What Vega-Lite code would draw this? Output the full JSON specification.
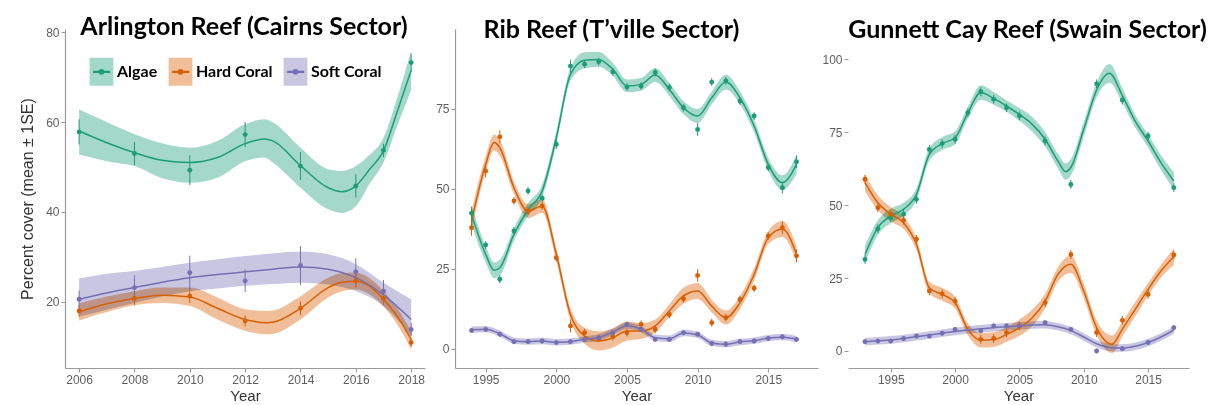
{
  "$schema": "https://vega.github.io/schema/vega-lite/v6.json",
  "background": "white",
  "padding": {"left": 19, "top": 15, "right": 5, "bottom": 0},
  "bounds": "flush",
  "spacing": 30,
  "datasets": {
    "fit1": [
      {"group": "Algae", "year": 2006, "fit": 58.0, "lo": 52.8, "hi": 62.8},
      {"group": "Algae", "year": 2007, "fit": 55.4, "lo": 51.3, "hi": 60.0},
      {"group": "Algae", "year": 2008, "fit": 53.2, "lo": 50.2, "hi": 57.3},
      {"group": "Algae", "year": 2009, "fit": 51.5, "lo": 47.5, "hi": 55.3},
      {"group": "Algae", "year": 2010, "fit": 51.0, "lo": 46.5, "hi": 54.3},
      {"group": "Algae", "year": 2011, "fit": 52.1, "lo": 47.6, "hi": 55.8},
      {"group": "Algae", "year": 2012, "fit": 55.2, "lo": 51.3, "hi": 59.5},
      {"group": "Algae", "year": 2012.7, "fit": 56.2, "lo": 52.1, "hi": 60.6},
      {"group": "Algae", "year": 2013, "fit": 55.8, "lo": 51.0, "hi": 59.9},
      {"group": "Algae", "year": 2014, "fit": 50.3, "lo": 45.4, "hi": 54.3},
      {"group": "Algae", "year": 2015, "fit": 45.4, "lo": 40.6, "hi": 49.5},
      {"group": "Algae", "year": 2015.5, "fit": 44.5, "lo": 39.8, "hi": 49.1},
      {"group": "Algae", "year": 2016, "fit": 45.8, "lo": 41.3, "hi": 50.2},
      {"group": "Algae", "year": 2016.5, "fit": 49.5, "lo": 46.3, "hi": 52.7},
      {"group": "Algae", "year": 2017, "fit": 53.6, "lo": 51.0, "hi": 56.5},
      {"group": "Algae", "year": 2017.5, "fit": 62.4, "lo": 59.2, "hi": 65.5},
      {"group": "Algae", "year": 2018, "fit": 71.5, "lo": 67.1, "hi": 75.8},
      {"group": "Hard Coral", "year": 2006, "fit": 17.8, "lo": 15.9, "hi": 19.7},
      {"group": "Hard Coral", "year": 2007, "fit": 19.6, "lo": 17.8, "hi": 21.2},
      {"group": "Hard Coral", "year": 2008, "fit": 20.8, "lo": 19.3, "hi": 22.4},
      {"group": "Hard Coral", "year": 2009, "fit": 21.5, "lo": 19.8, "hi": 23.2},
      {"group": "Hard Coral", "year": 2010, "fit": 21.1, "lo": 19.1, "hi": 23.2},
      {"group": "Hard Coral", "year": 2011, "fit": 18.6, "lo": 16.1, "hi": 21.0},
      {"group": "Hard Coral", "year": 2012, "fit": 16.1, "lo": 13.6, "hi": 18.4},
      {"group": "Hard Coral", "year": 2012.8, "fit": 15.4, "lo": 12.8, "hi": 18.0},
      {"group": "Hard Coral", "year": 2013, "fit": 15.5, "lo": 12.9, "hi": 18.1},
      {"group": "Hard Coral", "year": 2014, "fit": 18.6, "lo": 16.1, "hi": 21.3},
      {"group": "Hard Coral", "year": 2015, "fit": 23.2, "lo": 21.0, "hi": 25.4},
      {"group": "Hard Coral", "year": 2015.5, "fit": 24.4, "lo": 22.4, "hi": 26.4},
      {"group": "Hard Coral", "year": 2016, "fit": 24.6, "lo": 22.8, "hi": 26.5},
      {"group": "Hard Coral", "year": 2016.5, "fit": 23.5, "lo": 21.7, "hi": 25.3},
      {"group": "Hard Coral", "year": 2017, "fit": 20.6, "lo": 19.0, "hi": 22.4},
      {"group": "Hard Coral", "year": 2017.5, "fit": 16.8, "lo": 15.0, "hi": 18.6},
      {"group": "Hard Coral", "year": 2018, "fit": 11.7, "lo": 9.5, "hi": 13.5},
      {"group": "Soft Coral", "year": 2006, "fit": 20.6, "lo": 16.8, "hi": 25.2},
      {"group": "Soft Coral", "year": 2007, "fit": 22.0, "lo": 18.3, "hi": 26.3},
      {"group": "Soft Coral", "year": 2008, "fit": 23.2, "lo": 19.8, "hi": 26.9},
      {"group": "Soft Coral", "year": 2009, "fit": 24.4, "lo": 21.2, "hi": 27.8},
      {"group": "Soft Coral", "year": 2010, "fit": 25.4, "lo": 22.4, "hi": 28.7},
      {"group": "Soft Coral", "year": 2011, "fit": 26.1, "lo": 23.0, "hi": 29.5},
      {"group": "Soft Coral", "year": 2012, "fit": 26.7, "lo": 23.6, "hi": 30.2},
      {"group": "Soft Coral", "year": 2013, "fit": 27.3, "lo": 24.0, "hi": 30.8},
      {"group": "Soft Coral", "year": 2014, "fit": 27.8, "lo": 24.3, "hi": 31.2},
      {"group": "Soft Coral", "year": 2015, "fit": 27.3, "lo": 23.9, "hi": 30.6},
      {"group": "Soft Coral", "year": 2016, "fit": 25.4, "lo": 22.4, "hi": 28.4},
      {"group": "Soft Coral", "year": 2017, "fit": 21.6, "lo": 19.1, "hi": 24.3},
      {"group": "Soft Coral", "year": 2018, "fit": 16.1, "lo": 12.4, "hi": 20.6}
    ],
    "pts1": [
      {"group": "Algae", "year": 2006, "mean": 57.8, "lo": 55.0, "hi": 60.6},
      {"group": "Algae", "year": 2008, "mean": 53.0, "lo": 50.4, "hi": 55.6},
      {"group": "Algae", "year": 2010, "mean": 49.3, "lo": 46.0, "hi": 52.6},
      {"group": "Algae", "year": 2012, "mean": 57.2, "lo": 54.4, "hi": 60.0},
      {"group": "Algae", "year": 2014, "mean": 50.2, "lo": 47.1, "hi": 53.3},
      {"group": "Algae", "year": 2016, "mean": 45.8, "lo": 43.2, "hi": 48.4},
      {"group": "Algae", "year": 2017, "mean": 53.7, "lo": 52.2, "hi": 55.2},
      {"group": "Algae", "year": 2018, "mean": 73.2, "lo": 71.2, "hi": 75.2},
      {"group": "Hard Coral", "year": 2006, "mean": 18.0, "lo": 16.7, "hi": 19.3},
      {"group": "Hard Coral", "year": 2008, "mean": 20.8, "lo": 19.3, "hi": 22.3},
      {"group": "Hard Coral", "year": 2010, "mean": 21.3, "lo": 19.8, "hi": 22.8},
      {"group": "Hard Coral", "year": 2012, "mean": 15.8, "lo": 14.6, "hi": 17.0},
      {"group": "Hard Coral", "year": 2014, "mean": 18.6, "lo": 17.1, "hi": 20.1},
      {"group": "Hard Coral", "year": 2016, "mean": 24.7, "lo": 23.2, "hi": 26.2},
      {"group": "Hard Coral", "year": 2017, "mean": 20.8, "lo": 19.3, "hi": 22.3},
      {"group": "Hard Coral", "year": 2018, "mean": 11.0, "lo": 10.0, "hi": 12.0},
      {"group": "Soft Coral", "year": 2006, "mean": 20.6, "lo": 18.7, "hi": 22.5},
      {"group": "Soft Coral", "year": 2008, "mean": 23.2, "lo": 20.5, "hi": 25.9},
      {"group": "Soft Coral", "year": 2010, "mean": 26.5, "lo": 22.7, "hi": 30.3},
      {"group": "Soft Coral", "year": 2012, "mean": 24.7, "lo": 22.2, "hi": 27.2},
      {"group": "Soft Coral", "year": 2014, "mean": 28.1, "lo": 23.8, "hi": 32.4},
      {"group": "Soft Coral", "year": 2016, "mean": 26.7, "lo": 23.7, "hi": 29.7},
      {"group": "Soft Coral", "year": 2017, "mean": 22.4, "lo": 19.9, "hi": 24.9},
      {"group": "Soft Coral", "year": 2018, "mean": 13.9, "lo": 12.4, "hi": 15.4}
    ],
    "fit2": [
      {"group": "Algae", "year": 1994, "fit": 42.0, "lo": 39.0, "hi": 45.0},
      {"group": "Algae", "year": 1995, "fit": 29.6, "lo": 27.1, "hi": 32.1},
      {"group": "Algae", "year": 1995.6, "fit": 24.6, "lo": 22.1, "hi": 27.1},
      {"group": "Algae", "year": 1996, "fit": 25.4, "lo": 22.9, "hi": 27.9},
      {"group": "Algae", "year": 1997, "fit": 35.8, "lo": 33.8, "hi": 37.8},
      {"group": "Algae", "year": 1998, "fit": 43.6, "lo": 41.6, "hi": 45.6},
      {"group": "Algae", "year": 1999, "fit": 49.4, "lo": 47.4, "hi": 51.4},
      {"group": "Algae", "year": 2000, "fit": 66.0, "lo": 64.0, "hi": 68.0},
      {"group": "Algae", "year": 2001, "fit": 85.8, "lo": 83.8, "hi": 87.8},
      {"group": "Algae", "year": 2002, "fit": 90.2, "lo": 87.7, "hi": 92.7},
      {"group": "Algae", "year": 2003, "fit": 90.5, "lo": 88.2, "hi": 92.8},
      {"group": "Algae", "year": 2004, "fit": 87.4, "lo": 85.4, "hi": 89.4},
      {"group": "Algae", "year": 2005, "fit": 82.2, "lo": 80.2, "hi": 84.2},
      {"group": "Algae", "year": 2006, "fit": 82.7, "lo": 80.7, "hi": 84.7},
      {"group": "Algae", "year": 2007, "fit": 85.6, "lo": 83.4, "hi": 87.8},
      {"group": "Algae", "year": 2008, "fit": 81.1, "lo": 79.1, "hi": 83.1},
      {"group": "Algae", "year": 2009, "fit": 75.4, "lo": 73.4, "hi": 77.4},
      {"group": "Algae", "year": 2010, "fit": 72.8, "lo": 70.6, "hi": 75.0},
      {"group": "Algae", "year": 2011, "fit": 78.5, "lo": 76.5, "hi": 80.5},
      {"group": "Algae", "year": 2012, "fit": 83.4, "lo": 81.1, "hi": 85.7},
      {"group": "Algae", "year": 2013, "fit": 78.5, "lo": 76.5, "hi": 80.5},
      {"group": "Algae", "year": 2014, "fit": 69.7, "lo": 67.7, "hi": 71.7},
      {"group": "Algae", "year": 2015, "fit": 57.7, "lo": 55.7, "hi": 59.7},
      {"group": "Algae", "year": 2016, "fit": 52.0, "lo": 49.7, "hi": 54.3},
      {"group": "Algae", "year": 2017, "fit": 57.7, "lo": 54.7, "hi": 60.7},
      {"group": "Hard Coral", "year": 1994, "fit": 40.0, "lo": 37.0, "hi": 43.0},
      {"group": "Hard Coral", "year": 1995, "fit": 57.7, "lo": 55.2, "hi": 60.2},
      {"group": "Hard Coral", "year": 1995.6, "fit": 64.5, "lo": 62.0, "hi": 67.0},
      {"group": "Hard Coral", "year": 1996, "fit": 62.9, "lo": 60.4, "hi": 65.4},
      {"group": "Hard Coral", "year": 1997, "fit": 50.4, "lo": 48.4, "hi": 52.4},
      {"group": "Hard Coral", "year": 1998, "fit": 43.1, "lo": 40.9, "hi": 45.3},
      {"group": "Hard Coral", "year": 1999, "fit": 44.7, "lo": 42.5, "hi": 46.9},
      {"group": "Hard Coral", "year": 2000, "fit": 29.6, "lo": 27.6, "hi": 31.6},
      {"group": "Hard Coral", "year": 2001, "fit": 10.8, "lo": 8.8, "hi": 12.8},
      {"group": "Hard Coral", "year": 2002, "fit": 4.1, "lo": 1.6, "hi": 6.6},
      {"group": "Hard Coral", "year": 2003, "fit": 2.5, "lo": -0.5, "hi": 5.5},
      {"group": "Hard Coral", "year": 2004, "fit": 3.5, "lo": 0.5, "hi": 6.5},
      {"group": "Hard Coral", "year": 2005, "fit": 5.6, "lo": 2.6, "hi": 8.6},
      {"group": "Hard Coral", "year": 2006, "fit": 5.6, "lo": 3.1, "hi": 8.1},
      {"group": "Hard Coral", "year": 2007, "fit": 7.2, "lo": 5.2, "hi": 9.2},
      {"group": "Hard Coral", "year": 2008, "fit": 11.9, "lo": 9.9, "hi": 13.9},
      {"group": "Hard Coral", "year": 2009, "fit": 16.6, "lo": 14.1, "hi": 19.1},
      {"group": "Hard Coral", "year": 2010, "fit": 18.1, "lo": 15.6, "hi": 20.6},
      {"group": "Hard Coral", "year": 2011, "fit": 13.4, "lo": 11.4, "hi": 15.4},
      {"group": "Hard Coral", "year": 2012, "fit": 9.8, "lo": 7.6, "hi": 12.0},
      {"group": "Hard Coral", "year": 2013, "fit": 14.5, "lo": 12.5, "hi": 16.5},
      {"group": "Hard Coral", "year": 2014, "fit": 23.3, "lo": 21.3, "hi": 25.3},
      {"group": "Hard Coral", "year": 2015, "fit": 34.8, "lo": 32.8, "hi": 36.8},
      {"group": "Hard Coral", "year": 2016, "fit": 37.5, "lo": 35.0, "hi": 40.0},
      {"group": "Hard Coral", "year": 2017, "fit": 29.6, "lo": 27.1, "hi": 32.1},
      {"group": "Soft Coral", "year": 1994, "fit": 6.0, "lo": 5.0, "hi": 7.0},
      {"group": "Soft Coral", "year": 1995, "fit": 6.2, "lo": 5.2, "hi": 7.2},
      {"group": "Soft Coral", "year": 1996, "fit": 4.8, "lo": 3.8, "hi": 5.8},
      {"group": "Soft Coral", "year": 1997, "fit": 2.6, "lo": 1.6, "hi": 3.6},
      {"group": "Soft Coral", "year": 1998, "fit": 2.3, "lo": 1.3, "hi": 3.3},
      {"group": "Soft Coral", "year": 1999, "fit": 2.5, "lo": 1.5, "hi": 3.5},
      {"group": "Soft Coral", "year": 2000, "fit": 2.1, "lo": 1.1, "hi": 3.1},
      {"group": "Soft Coral", "year": 2001, "fit": 2.3, "lo": 1.3, "hi": 3.3},
      {"group": "Soft Coral", "year": 2002, "fit": 3.0, "lo": 2.0, "hi": 4.0},
      {"group": "Soft Coral", "year": 2003, "fit": 3.6, "lo": 2.6, "hi": 4.6},
      {"group": "Soft Coral", "year": 2004, "fit": 5.3, "lo": 4.3, "hi": 6.3},
      {"group": "Soft Coral", "year": 2005, "fit": 7.3, "lo": 6.3, "hi": 8.3},
      {"group": "Soft Coral", "year": 2006, "fit": 6.2, "lo": 5.2, "hi": 7.2},
      {"group": "Soft Coral", "year": 2007, "fit": 3.5, "lo": 2.5, "hi": 4.5},
      {"group": "Soft Coral", "year": 2008, "fit": 3.2, "lo": 2.2, "hi": 4.2},
      {"group": "Soft Coral", "year": 2009, "fit": 5.0, "lo": 4.0, "hi": 6.0},
      {"group": "Soft Coral", "year": 2010, "fit": 4.4, "lo": 3.4, "hi": 5.4},
      {"group": "Soft Coral", "year": 2011, "fit": 1.9, "lo": 0.9, "hi": 2.9},
      {"group": "Soft Coral", "year": 2012, "fit": 1.5, "lo": 0.5, "hi": 2.5},
      {"group": "Soft Coral", "year": 2013, "fit": 2.2, "lo": 1.2, "hi": 3.2},
      {"group": "Soft Coral", "year": 2014, "fit": 2.6, "lo": 1.6, "hi": 3.6},
      {"group": "Soft Coral", "year": 2015, "fit": 3.4, "lo": 2.4, "hi": 4.4},
      {"group": "Soft Coral", "year": 2016, "fit": 3.7, "lo": 2.7, "hi": 4.7},
      {"group": "Soft Coral", "year": 2017, "fit": 3.1, "lo": 2.1, "hi": 4.1}
    ],
    "pts2": [
      {"group": "Algae", "year": 1994, "mean": 42.4, "lo": 40.4, "hi": 44.4},
      {"group": "Algae", "year": 1995, "mean": 32.5, "lo": 31.3, "hi": 33.7},
      {"group": "Algae", "year": 1996, "mean": 21.8, "lo": 20.6, "hi": 23.0},
      {"group": "Algae", "year": 1997, "mean": 36.9, "lo": 35.7, "hi": 38.1},
      {"group": "Algae", "year": 1998, "mean": 49.4, "lo": 48.2, "hi": 50.6},
      {"group": "Algae", "year": 1999, "mean": 47.1, "lo": 45.9, "hi": 48.3},
      {"group": "Algae", "year": 2000, "mean": 64.0, "lo": 62.5, "hi": 65.5},
      {"group": "Algae", "year": 2001, "mean": 88.4, "lo": 86.4, "hi": 90.4},
      {"group": "Algae", "year": 2002, "mean": 89.0, "lo": 87.8, "hi": 90.2},
      {"group": "Algae", "year": 2003, "mean": 89.8, "lo": 88.6, "hi": 91.0},
      {"group": "Algae", "year": 2004, "mean": 86.6, "lo": 85.4, "hi": 87.8},
      {"group": "Algae", "year": 2005, "mean": 81.9, "lo": 80.7, "hi": 83.1},
      {"group": "Algae", "year": 2006, "mean": 82.2, "lo": 81.0, "hi": 83.4},
      {"group": "Algae", "year": 2007, "mean": 86.4, "lo": 85.2, "hi": 87.6},
      {"group": "Algae", "year": 2008, "mean": 81.7, "lo": 80.5, "hi": 82.9},
      {"group": "Algae", "year": 2009, "mean": 75.4, "lo": 74.2, "hi": 76.6},
      {"group": "Algae", "year": 2010, "mean": 68.6, "lo": 66.6, "hi": 70.6},
      {"group": "Algae", "year": 2011, "mean": 83.4, "lo": 82.2, "hi": 84.6},
      {"group": "Algae", "year": 2012, "mean": 83.8, "lo": 82.6, "hi": 85.0},
      {"group": "Algae", "year": 2013, "mean": 77.5, "lo": 76.3, "hi": 78.7},
      {"group": "Algae", "year": 2014, "mean": 72.8, "lo": 71.6, "hi": 74.0},
      {"group": "Algae", "year": 2015, "mean": 56.7, "lo": 55.5, "hi": 57.9},
      {"group": "Algae", "year": 2016, "mean": 50.4, "lo": 48.6, "hi": 52.2},
      {"group": "Algae", "year": 2017, "mean": 58.5, "lo": 56.5, "hi": 60.5},
      {"group": "Hard Coral", "year": 1994, "mean": 37.9, "lo": 35.4, "hi": 40.4},
      {"group": "Hard Coral", "year": 1995, "mean": 55.6, "lo": 53.6, "hi": 57.6},
      {"group": "Hard Coral", "year": 1996, "mean": 66.3, "lo": 64.3, "hi": 68.3},
      {"group": "Hard Coral", "year": 1997, "mean": 46.3, "lo": 45.1, "hi": 47.5},
      {"group": "Hard Coral", "year": 1998, "mean": 43.1, "lo": 41.9, "hi": 44.3},
      {"group": "Hard Coral", "year": 1999, "mean": 44.7, "lo": 43.5, "hi": 45.9},
      {"group": "Hard Coral", "year": 2000, "mean": 28.5, "lo": 27.3, "hi": 29.7},
      {"group": "Hard Coral", "year": 2001, "mean": 7.2, "lo": 5.2, "hi": 9.2},
      {"group": "Hard Coral", "year": 2002, "mean": 5.1, "lo": 3.9, "hi": 6.3},
      {"group": "Hard Coral", "year": 2003, "mean": 3.3, "lo": 2.1, "hi": 4.5},
      {"group": "Hard Coral", "year": 2004, "mean": 3.8, "lo": 2.6, "hi": 5.0},
      {"group": "Hard Coral", "year": 2005, "mean": 5.1, "lo": 3.9, "hi": 6.3},
      {"group": "Hard Coral", "year": 2006, "mean": 7.7, "lo": 6.5, "hi": 8.9},
      {"group": "Hard Coral", "year": 2007, "mean": 6.1, "lo": 4.9, "hi": 7.3},
      {"group": "Hard Coral", "year": 2008, "mean": 10.8, "lo": 9.6, "hi": 12.0},
      {"group": "Hard Coral", "year": 2009, "mean": 15.7, "lo": 14.5, "hi": 16.9},
      {"group": "Hard Coral", "year": 2010, "mean": 23.0, "lo": 21.0, "hi": 25.0},
      {"group": "Hard Coral", "year": 2011, "mean": 8.2, "lo": 7.0, "hi": 9.4},
      {"group": "Hard Coral", "year": 2012, "mean": 9.8, "lo": 8.6, "hi": 11.0},
      {"group": "Hard Coral", "year": 2013, "mean": 15.5, "lo": 14.3, "hi": 16.7},
      {"group": "Hard Coral", "year": 2014, "mean": 19.0, "lo": 17.8, "hi": 20.2},
      {"group": "Hard Coral", "year": 2015, "mean": 35.3, "lo": 34.1, "hi": 36.5},
      {"group": "Hard Coral", "year": 2016, "mean": 37.9, "lo": 35.9, "hi": 39.9},
      {"group": "Hard Coral", "year": 2017, "mean": 29.1, "lo": 27.1, "hi": 31.1},
      {"group": "Soft Coral", "year": 1994, "mean": 5.8, "lo": 5.0, "hi": 6.6},
      {"group": "Soft Coral", "year": 1995, "mean": 6.1, "lo": 5.3, "hi": 6.9},
      {"group": "Soft Coral", "year": 1996, "mean": 4.6, "lo": 3.8, "hi": 5.4},
      {"group": "Soft Coral", "year": 1997, "mean": 2.3, "lo": 1.5, "hi": 3.1},
      {"group": "Soft Coral", "year": 1998, "mean": 2.3, "lo": 1.5, "hi": 3.1},
      {"group": "Soft Coral", "year": 1999, "mean": 2.5, "lo": 1.7, "hi": 3.3},
      {"group": "Soft Coral", "year": 2000, "mean": 2.0, "lo": 1.2, "hi": 2.8},
      {"group": "Soft Coral", "year": 2001, "mean": 2.3, "lo": 1.5, "hi": 3.1},
      {"group": "Soft Coral", "year": 2002, "mean": 3.0, "lo": 2.2, "hi": 3.8},
      {"group": "Soft Coral", "year": 2003, "mean": 3.5, "lo": 2.7, "hi": 4.3},
      {"group": "Soft Coral", "year": 2004, "mean": 5.1, "lo": 4.3, "hi": 5.9},
      {"group": "Soft Coral", "year": 2005, "mean": 7.7, "lo": 6.9, "hi": 8.5},
      {"group": "Soft Coral", "year": 2006, "mean": 6.1, "lo": 5.3, "hi": 6.9},
      {"group": "Soft Coral", "year": 2007, "mean": 3.0, "lo": 2.2, "hi": 3.8},
      {"group": "Soft Coral", "year": 2008, "mean": 3.0, "lo": 2.2, "hi": 3.8},
      {"group": "Soft Coral", "year": 2009, "mean": 5.1, "lo": 4.3, "hi": 5.9},
      {"group": "Soft Coral", "year": 2010, "mean": 4.6, "lo": 3.8, "hi": 5.4},
      {"group": "Soft Coral", "year": 2011, "mean": 1.7, "lo": 0.9, "hi": 2.5},
      {"group": "Soft Coral", "year": 2012, "mean": 1.5, "lo": 0.7, "hi": 2.3},
      {"group": "Soft Coral", "year": 2013, "mean": 2.3, "lo": 1.5, "hi": 3.1},
      {"group": "Soft Coral", "year": 2014, "mean": 2.5, "lo": 1.7, "hi": 3.3},
      {"group": "Soft Coral", "year": 2015, "mean": 3.3, "lo": 2.5, "hi": 4.1},
      {"group": "Soft Coral", "year": 2016, "mean": 3.8, "lo": 3.0, "hi": 4.6},
      {"group": "Soft Coral", "year": 2017, "mean": 3.0, "lo": 2.2, "hi": 3.8}
    ],
    "fit3": [
      {"group": "Algae", "year": 1993, "fit": 33.1, "lo": 30.1, "hi": 36.1},
      {"group": "Algae", "year": 1994, "fit": 42.3, "lo": 39.8, "hi": 44.8},
      {"group": "Algae", "year": 1995, "fit": 46.3, "lo": 43.8, "hi": 48.8},
      {"group": "Algae", "year": 1996, "fit": 48.6, "lo": 46.4, "hi": 50.8},
      {"group": "Algae", "year": 1997, "fit": 53.7, "lo": 51.7, "hi": 55.7},
      {"group": "Algae", "year": 1998, "fit": 67.4, "lo": 65.2, "hi": 69.6},
      {"group": "Algae", "year": 1999, "fit": 71.1, "lo": 68.9, "hi": 73.3},
      {"group": "Algae", "year": 2000, "fit": 73.1, "lo": 70.9, "hi": 75.3},
      {"group": "Algae", "year": 2001, "fit": 81.7, "lo": 79.7, "hi": 83.7},
      {"group": "Algae", "year": 2002, "fit": 88.6, "lo": 86.1, "hi": 91.1},
      {"group": "Algae", "year": 2003, "fit": 86.6, "lo": 84.4, "hi": 88.8},
      {"group": "Algae", "year": 2004, "fit": 84.0, "lo": 82.0, "hi": 86.0},
      {"group": "Algae", "year": 2005, "fit": 81.1, "lo": 78.9, "hi": 83.3},
      {"group": "Algae", "year": 2006, "fit": 77.7, "lo": 75.2, "hi": 80.2},
      {"group": "Algae", "year": 2007, "fit": 72.6, "lo": 70.1, "hi": 75.1},
      {"group": "Algae", "year": 2008, "fit": 65.1, "lo": 62.6, "hi": 67.6},
      {"group": "Algae", "year": 2008.6, "fit": 61.5, "lo": 58.7, "hi": 64.3},
      {"group": "Algae", "year": 2009, "fit": 63.0, "lo": 60.2, "hi": 65.8},
      {"group": "Algae", "year": 2010, "fit": 76.0, "lo": 73.5, "hi": 78.5},
      {"group": "Algae", "year": 2011, "fit": 89.5, "lo": 87.0, "hi": 92.0},
      {"group": "Algae", "year": 2012, "fit": 95.2, "lo": 92.0, "hi": 98.4},
      {"group": "Algae", "year": 2013, "fit": 87.6, "lo": 85.1, "hi": 90.1},
      {"group": "Algae", "year": 2014, "fit": 78.8, "lo": 76.6, "hi": 81.0},
      {"group": "Algae", "year": 2015, "fit": 72.0, "lo": 69.8, "hi": 74.2},
      {"group": "Algae", "year": 2016, "fit": 64.6, "lo": 62.1, "hi": 67.1},
      {"group": "Algae", "year": 2017, "fit": 58.3, "lo": 55.3, "hi": 61.3},
      {"group": "Hard Coral", "year": 1993, "fit": 57.7, "lo": 54.7, "hi": 60.7},
      {"group": "Hard Coral", "year": 1994, "fit": 50.8, "lo": 48.3, "hi": 53.3},
      {"group": "Hard Coral", "year": 1995, "fit": 46.9, "lo": 44.4, "hi": 49.4},
      {"group": "Hard Coral", "year": 1996, "fit": 44.0, "lo": 41.8, "hi": 46.2},
      {"group": "Hard Coral", "year": 1997, "fit": 36.6, "lo": 34.6, "hi": 38.6},
      {"group": "Hard Coral", "year": 1998, "fit": 21.7, "lo": 19.7, "hi": 23.7},
      {"group": "Hard Coral", "year": 1999, "fit": 19.4, "lo": 17.2, "hi": 21.6},
      {"group": "Hard Coral", "year": 2000, "fit": 16.6, "lo": 14.6, "hi": 18.6},
      {"group": "Hard Coral", "year": 2001, "fit": 7.4, "lo": 5.4, "hi": 9.4},
      {"group": "Hard Coral", "year": 2002, "fit": 3.7, "lo": 1.2, "hi": 6.2},
      {"group": "Hard Coral", "year": 2003, "fit": 3.9, "lo": 1.4, "hi": 6.4},
      {"group": "Hard Coral", "year": 2004, "fit": 5.7, "lo": 3.2, "hi": 8.2},
      {"group": "Hard Coral", "year": 2005, "fit": 8.0, "lo": 5.2, "hi": 10.8},
      {"group": "Hard Coral", "year": 2006, "fit": 11.4, "lo": 8.6, "hi": 14.2},
      {"group": "Hard Coral", "year": 2007, "fit": 17.1, "lo": 14.6, "hi": 19.6},
      {"group": "Hard Coral", "year": 2008, "fit": 26.3, "lo": 23.8, "hi": 28.8},
      {"group": "Hard Coral", "year": 2009, "fit": 29.7, "lo": 26.7, "hi": 32.7},
      {"group": "Hard Coral", "year": 2010, "fit": 20.6, "lo": 18.1, "hi": 23.1},
      {"group": "Hard Coral", "year": 2011, "fit": 8.0, "lo": 5.5, "hi": 10.5},
      {"group": "Hard Coral", "year": 2012.2, "fit": 2.3, "lo": -0.7, "hi": 5.3},
      {"group": "Hard Coral", "year": 2013, "fit": 7.5, "lo": 5.0, "hi": 10.0},
      {"group": "Hard Coral", "year": 2014, "fit": 14.3, "lo": 11.8, "hi": 16.8},
      {"group": "Hard Coral", "year": 2015, "fit": 21.1, "lo": 18.9, "hi": 23.3},
      {"group": "Hard Coral", "year": 2016, "fit": 27.4, "lo": 25.2, "hi": 29.6},
      {"group": "Hard Coral", "year": 2017, "fit": 32.3, "lo": 29.5, "hi": 35.1},
      {"group": "Soft Coral", "year": 1993, "fit": 3.2, "lo": 1.9, "hi": 4.5},
      {"group": "Soft Coral", "year": 1994, "fit": 3.5, "lo": 2.2, "hi": 4.8},
      {"group": "Soft Coral", "year": 1995, "fit": 3.8, "lo": 2.5, "hi": 5.1},
      {"group": "Soft Coral", "year": 1996, "fit": 4.3, "lo": 3.0, "hi": 5.6},
      {"group": "Soft Coral", "year": 1997, "fit": 4.9, "lo": 3.6, "hi": 6.2},
      {"group": "Soft Coral", "year": 1998, "fit": 5.5, "lo": 4.2, "hi": 6.8},
      {"group": "Soft Coral", "year": 1999, "fit": 6.1, "lo": 4.8, "hi": 7.4},
      {"group": "Soft Coral", "year": 2000, "fit": 6.7, "lo": 5.4, "hi": 8.0},
      {"group": "Soft Coral", "year": 2001, "fit": 7.2, "lo": 5.9, "hi": 8.5},
      {"group": "Soft Coral", "year": 2002, "fit": 7.6, "lo": 6.3, "hi": 8.9},
      {"group": "Soft Coral", "year": 2003, "fit": 8.0, "lo": 6.7, "hi": 9.3},
      {"group": "Soft Coral", "year": 2004, "fit": 8.3, "lo": 7.0, "hi": 9.6},
      {"group": "Soft Coral", "year": 2005, "fit": 8.6, "lo": 7.3, "hi": 9.9},
      {"group": "Soft Coral", "year": 2006, "fit": 8.9, "lo": 7.6, "hi": 10.2},
      {"group": "Soft Coral", "year": 2007, "fit": 9.0, "lo": 7.7, "hi": 10.3},
      {"group": "Soft Coral", "year": 2008, "fit": 8.3, "lo": 7.0, "hi": 9.6},
      {"group": "Soft Coral", "year": 2009, "fit": 7.0, "lo": 5.7, "hi": 8.3},
      {"group": "Soft Coral", "year": 2010, "fit": 4.8, "lo": 3.5, "hi": 6.1},
      {"group": "Soft Coral", "year": 2011, "fit": 2.5, "lo": 1.2, "hi": 3.8},
      {"group": "Soft Coral", "year": 2012, "fit": 1.2, "lo": -0.1, "hi": 2.5},
      {"group": "Soft Coral", "year": 2013, "fit": 1.0, "lo": -0.3, "hi": 2.3},
      {"group": "Soft Coral", "year": 2014, "fit": 1.6, "lo": 0.3, "hi": 2.9},
      {"group": "Soft Coral", "year": 2015, "fit": 2.9, "lo": 1.6, "hi": 4.2},
      {"group": "Soft Coral", "year": 2016, "fit": 4.8, "lo": 3.5, "hi": 6.1},
      {"group": "Soft Coral", "year": 2017, "fit": 7.2, "lo": 5.9, "hi": 8.5}
    ],
    "pts3": [
      {"group": "Algae", "year": 1993, "mean": 31.4, "lo": 29.9, "hi": 32.9},
      {"group": "Algae", "year": 1994, "mean": 41.9, "lo": 40.4, "hi": 43.4},
      {"group": "Algae", "year": 1995, "mean": 45.7, "lo": 44.2, "hi": 47.2},
      {"group": "Algae", "year": 1996, "mean": 46.9, "lo": 45.4, "hi": 48.4},
      {"group": "Algae", "year": 1997, "mean": 52.0, "lo": 50.5, "hi": 53.5},
      {"group": "Algae", "year": 1998, "mean": 69.1, "lo": 67.6, "hi": 70.6},
      {"group": "Algae", "year": 1999, "mean": 71.1, "lo": 69.6, "hi": 72.6},
      {"group": "Algae", "year": 2000, "mean": 72.6, "lo": 71.1, "hi": 74.1},
      {"group": "Algae", "year": 2001, "mean": 81.7, "lo": 80.2, "hi": 83.2},
      {"group": "Algae", "year": 2002, "mean": 88.9, "lo": 87.4, "hi": 90.4},
      {"group": "Algae", "year": 2003, "mean": 86.3, "lo": 84.8, "hi": 87.8},
      {"group": "Algae", "year": 2004, "mean": 83.4, "lo": 81.9, "hi": 84.9},
      {"group": "Algae", "year": 2005, "mean": 80.6, "lo": 79.1, "hi": 82.1},
      {"group": "Algae", "year": 2007, "mean": 72.0, "lo": 70.5, "hi": 73.5},
      {"group": "Algae", "year": 2009, "mean": 57.1, "lo": 55.6, "hi": 58.6},
      {"group": "Algae", "year": 2011, "mean": 91.6, "lo": 90.1, "hi": 93.1},
      {"group": "Algae", "year": 2013, "mean": 86.0, "lo": 84.5, "hi": 87.5},
      {"group": "Algae", "year": 2015, "mean": 73.7, "lo": 72.2, "hi": 75.2},
      {"group": "Algae", "year": 2017, "mean": 56.0, "lo": 54.5, "hi": 57.5},
      {"group": "Hard Coral", "year": 1993, "mean": 58.9, "lo": 57.4, "hi": 60.4},
      {"group": "Hard Coral", "year": 1994, "mean": 49.1, "lo": 47.6, "hi": 50.6},
      {"group": "Hard Coral", "year": 1995, "mean": 46.9, "lo": 45.4, "hi": 48.4},
      {"group": "Hard Coral", "year": 1996, "mean": 44.8, "lo": 43.3, "hi": 46.3},
      {"group": "Hard Coral", "year": 1997, "mean": 38.3, "lo": 36.8, "hi": 39.8},
      {"group": "Hard Coral", "year": 1998, "mean": 20.6, "lo": 19.1, "hi": 22.1},
      {"group": "Hard Coral", "year": 1999, "mean": 19.6, "lo": 18.1, "hi": 21.1},
      {"group": "Hard Coral", "year": 2000, "mean": 17.1, "lo": 15.6, "hi": 18.6},
      {"group": "Hard Coral", "year": 2002, "mean": 4.0, "lo": 2.5, "hi": 5.5},
      {"group": "Hard Coral", "year": 2003, "mean": 4.3, "lo": 2.8, "hi": 5.8},
      {"group": "Hard Coral", "year": 2004, "mean": 6.3, "lo": 4.8, "hi": 7.8},
      {"group": "Hard Coral", "year": 2005, "mean": 8.6, "lo": 7.1, "hi": 10.1},
      {"group": "Hard Coral", "year": 2007, "mean": 16.6, "lo": 15.1, "hi": 18.1},
      {"group": "Hard Coral", "year": 2009, "mean": 33.1, "lo": 31.6, "hi": 34.6},
      {"group": "Hard Coral", "year": 2011, "mean": 6.3, "lo": 4.8, "hi": 7.8},
      {"group": "Hard Coral", "year": 2013, "mean": 10.5, "lo": 9.0, "hi": 12.0},
      {"group": "Hard Coral", "year": 2015, "mean": 19.4, "lo": 17.9, "hi": 20.9},
      {"group": "Hard Coral", "year": 2017, "mean": 32.9, "lo": 31.4, "hi": 34.4},
      {"group": "Soft Coral", "year": 1993, "mean": 3.2, "lo": 2.4, "hi": 4.0},
      {"group": "Soft Coral", "year": 1994, "mean": 3.4, "lo": 2.6, "hi": 4.2},
      {"group": "Soft Coral", "year": 1995, "mean": 3.4, "lo": 2.6, "hi": 4.2},
      {"group": "Soft Coral", "year": 1996, "mean": 4.3, "lo": 3.5, "hi": 5.1},
      {"group": "Soft Coral", "year": 1997, "mean": 5.1, "lo": 4.3, "hi": 5.9},
      {"group": "Soft Coral", "year": 1998, "mean": 5.1, "lo": 4.3, "hi": 5.9},
      {"group": "Soft Coral", "year": 1999, "mean": 6.1, "lo": 5.3, "hi": 6.9},
      {"group": "Soft Coral", "year": 2000, "mean": 7.4, "lo": 6.6, "hi": 8.2},
      {"group": "Soft Coral", "year": 2002, "mean": 6.9, "lo": 6.1, "hi": 7.7},
      {"group": "Soft Coral", "year": 2003, "mean": 8.6, "lo": 7.8, "hi": 9.4},
      {"group": "Soft Coral", "year": 2004, "mean": 8.6, "lo": 7.8, "hi": 9.4},
      {"group": "Soft Coral", "year": 2005, "mean": 8.6, "lo": 7.8, "hi": 9.4},
      {"group": "Soft Coral", "year": 2007, "mean": 9.7, "lo": 8.9, "hi": 10.5},
      {"group": "Soft Coral", "year": 2009, "mean": 7.4, "lo": 6.6, "hi": 8.2},
      {"group": "Soft Coral", "year": 2011, "mean": 0.0, "lo": -0.8, "hi": 0.8},
      {"group": "Soft Coral", "year": 2013, "mean": 0.8, "lo": 0.0, "hi": 1.6},
      {"group": "Soft Coral", "year": 2015, "mean": 2.9, "lo": 2.1, "hi": 3.7},
      {"group": "Soft Coral", "year": 2017, "mean": 8.0, "lo": 7.2, "hi": 8.8}
    ]
  },
  "hconcat": [
    {
      "width": 360,
      "height": 339,
      "title": {"text": "Arlington Reef (Cairns Sector)", "dx": -1},
      "encoding": {
        "x": {"field": "year", "type": "quantitative", "scale": {"domain": [2005.49, 2018.5], "nice": false, "zero": false}, "axis": {"values": [2006, 2008, 2010, 2012, 2014, 2016, 2018], "format": "d", "title": "Year"}}
      },
      "layer": [
        {
          "data": {"name": "fit1"},
          "mark": {"type": "area", "opacity": 1, "blend": "multiply", "interpolate": "monotone"},
          "encoding": {
            "y": {"field": "lo", "type": "quantitative", "scale": {"domain": [5.33, 80.67], "nice": false, "zero": false}, "axis": {"values": [20, 40, 60, 80], "title": "Percent cover (mean ± 1SE)", "titleFontSize": 16, "titlePadding": 10}},
            "y2": {"field": "hi"},
            "fill": {"field": "group", "type": "nominal", "scale": {"domain": ["Algae", "Hard Coral", "Soft Coral"], "range": ["#a4d8c9", "#f0bf9a", "#c8c6e1"]}, "legend": {"orient": "none", "legendX": 21, "legendY": 27, "direction": "horizontal", "title": null, "padding": 0, "symbolType": "M-0.6,0H-0.12A0.12,0.12,0,1,0,0.12,0A0.12,0.12,0,1,0,-0.12,0L0.6,0L0.85,0L0.85,-1L-0.85,-1L-0.85,1L0.85,1L0.85,0Z", "symbolSize": 784, "symbolOpacity": 1, "symbolStrokeWidth": 2.4, "symbolDash": [27.4, 400], "labelFont": "Lato", "labelFontSize": 16, "labelFontWeight": "bold", "labelColor": "#000000", "labelOffset": 0, "columnPadding": 5}}
          }
        },
        {
          "data": {"name": "fit1"},
          "mark": {"type": "line", "strokeWidth": 1.5, "interpolate": "monotone"},
          "encoding": {
            "y": {"field": "fit", "type": "quantitative", "scale": {"domain": [5.33, 80.67], "nice": false, "zero": false}, "axis": {"values": [20, 40, 60, 80], "title": "Percent cover (mean ± 1SE)", "titleFontSize": 16, "titlePadding": 10}},
            "stroke": {"field": "group", "type": "nominal", "scale": {"domain": ["Algae", "Hard Coral", "Soft Coral"]}, "legend": {"orient": "none", "legendX": 21, "legendY": 27, "direction": "horizontal", "title": null, "padding": 0, "symbolType": "M-0.6,0H-0.12A0.12,0.12,0,1,0,0.12,0A0.12,0.12,0,1,0,-0.12,0L0.6,0L0.85,0L0.85,-1L-0.85,-1L-0.85,1L0.85,1L0.85,0Z", "symbolSize": 784, "symbolOpacity": 1, "symbolStrokeWidth": 2.4, "symbolDash": [27.4, 400], "labelFont": "Lato", "labelFontSize": 16, "labelFontWeight": "bold", "labelColor": "#000000", "labelOffset": 0, "columnPadding": 5}}
          }
        },
        {
          "data": {"name": "pts1"},
          "mark": {"type": "rule", "strokeWidth": 1},
          "encoding": {
            "y": {"field": "lo", "type": "quantitative", "scale": {"domain": [5.33, 80.67], "nice": false, "zero": false}, "axis": {"values": [20, 40, 60, 80], "title": "Percent cover (mean ± 1SE)", "titleFontSize": 16, "titlePadding": 10}},
            "y2": {"field": "hi"},
            "color": {"field": "group", "type": "nominal", "legend": null}
          }
        },
        {
          "data": {"name": "pts1"},
          "mark": {"type": "point", "filled": true, "size": 24, "opacity": 1},
          "encoding": {
            "y": {"field": "mean", "type": "quantitative", "scale": {"domain": [5.33, 80.67], "nice": false, "zero": false}, "axis": {"values": [20, 40, 60, 80], "title": "Percent cover (mean ± 1SE)", "titleFontSize": 16, "titlePadding": 10}},
            "color": {"field": "group", "type": "nominal", "legend": null}
          }
        }
      ]
    },
    {
      "width": 363,
      "height": 339,
      "title": {"text": "Rib Reef (T’ville Sector)", "dx": -25},
      "encoding": {
        "x": {"field": "year", "type": "quantitative", "scale": {"domain": [1992.83, 2018.52], "nice": false, "zero": false}, "axis": {"values": [1995, 2000, 2005, 2010, 2015], "format": "d", "title": "Year"}}
      },
      "layer": [
        {
          "data": {"name": "fit2"},
          "mark": {"type": "area", "opacity": 1, "blend": "multiply", "interpolate": "monotone"},
          "encoding": {
            "y": {"field": "lo", "type": "quantitative", "scale": {"domain": [-5.94, 100], "nice": false, "zero": false}, "axis": {"values": [0, 25, 50, 75], "title": null}},
            "y2": {"field": "hi"},
            "fill": {"field": "group", "type": "nominal", "scale": {"range": ["#a4d8c9", "#f0bf9a", "#c8c6e1"]}, "legend": null}
          }
        },
        {
          "data": {"name": "fit2"},
          "mark": {"type": "line", "strokeWidth": 1.5, "interpolate": "monotone"},
          "encoding": {
            "y": {"field": "fit", "type": "quantitative", "scale": {"domain": [-5.94, 100], "nice": false, "zero": false}, "axis": {"values": [0, 25, 50, 75], "title": null}},
            "stroke": {"field": "group", "type": "nominal", "legend": null}
          }
        },
        {
          "data": {"name": "pts2"},
          "mark": {"type": "rule", "strokeWidth": 1},
          "encoding": {
            "y": {"field": "lo", "type": "quantitative", "scale": {"domain": [-5.94, 100], "nice": false, "zero": false}, "axis": {"values": [0, 25, 50, 75], "title": null}},
            "y2": {"field": "hi"},
            "color": {"field": "group", "type": "nominal", "legend": null}
          }
        },
        {
          "data": {"name": "pts2"},
          "mark": {"type": "point", "filled": true, "size": 24, "opacity": 1},
          "encoding": {
            "y": {"field": "mean", "type": "quantitative", "scale": {"domain": [-5.94, 100], "nice": false, "zero": false}, "axis": {"values": [0, 25, 50, 75], "title": null}},
            "color": {"field": "group", "type": "nominal", "legend": null}
          }
        }
      ]
    },
    {
      "width": 341,
      "height": 339,
      "title": {"text": "Gunnett Cay Reef (Swain Sector)", "dx": 9},
      "encoding": {
        "x": {"field": "year", "type": "quantitative", "scale": {"domain": [1991.68, 2018.18], "nice": false, "zero": false}, "axis": {"values": [1995, 2000, 2005, 2010, 2015], "format": "d", "title": "Year"}}
      },
      "layer": [
        {
          "data": {"name": "fit3"},
          "mark": {"type": "area", "opacity": 1, "blend": "multiply", "interpolate": "monotone"},
          "encoding": {
            "y": {"field": "lo", "type": "quantitative", "scale": {"domain": [-5.83, 110.4], "nice": false, "zero": false}, "axis": {"values": [0, 25, 50, 75, 100], "title": null, "domain": false}},
            "y2": {"field": "hi"},
            "fill": {"field": "group", "type": "nominal", "scale": {"range": ["#a4d8c9", "#f0bf9a", "#c8c6e1"]}, "legend": null}
          }
        },
        {
          "data": {"name": "fit3"},
          "mark": {"type": "line", "strokeWidth": 1.5, "interpolate": "monotone"},
          "encoding": {
            "y": {"field": "fit", "type": "quantitative", "scale": {"domain": [-5.83, 110.4], "nice": false, "zero": false}, "axis": {"values": [0, 25, 50, 75, 100], "title": null, "domain": false}},
            "stroke": {"field": "group", "type": "nominal", "legend": null}
          }
        },
        {
          "data": {"name": "pts3"},
          "mark": {"type": "rule", "strokeWidth": 1},
          "encoding": {
            "y": {"field": "lo", "type": "quantitative", "scale": {"domain": [-5.83, 110.4], "nice": false, "zero": false}, "axis": {"values": [0, 25, 50, 75, 100], "title": null, "domain": false}},
            "y2": {"field": "hi"},
            "color": {"field": "group", "type": "nominal", "legend": null}
          }
        },
        {
          "data": {"name": "pts3"},
          "mark": {"type": "point", "filled": true, "size": 24, "opacity": 1},
          "encoding": {
            "y": {"field": "mean", "type": "quantitative", "scale": {"domain": [-5.83, 110.4], "nice": false, "zero": false}, "axis": {"values": [0, 25, 50, 75, 100], "title": null, "domain": false}},
            "color": {"field": "group", "type": "nominal", "legend": null}
          }
        },
        {
          "data": {"values": [{}]},
          "mark": {"type": "rule", "color": "#9a9a9a", "strokeWidth": 1.2},
          "encoding": {
            "x": {"datum": 1991.68, "type": "quantitative"},
            "y": {"datum": -5.83, "type": "quantitative"},
            "y2": {"datum": 104.6}
          }
        }
      ]
    }
  ],
  "resolve": {
    "scale": {"color": "independent", "fill": "independent", "stroke": "independent"},
    "legend": {"color": "independent", "fill": "independent", "stroke": "independent"}
  },
  "config": {
    "view": {"stroke": null},
    "range": {"category": ["#1B9E77", "#D95F02", "#7570B3"]},
    "axis": {"grid": false, "domainColor": "#9a9a9a", "domainWidth": 1.2, "tickColor": "#9a9a9a", "tickSize": 4, "labelFont": "Liberation Sans", "labelFontSize": 12, "labelColor": "#5e5e5e", "labelPadding": 2, "titleFont": "Liberation Sans", "titleFontSize": 15, "titleFontWeight": "normal", "titleColor": "#333333", "titlePadding": 3},
    "title": {"font": "Lato", "fontSize": 25, "fontWeight": "bold", "color": "#000000", "anchor": "middle", "offset": -14, "frame": "group"}
  }
}
